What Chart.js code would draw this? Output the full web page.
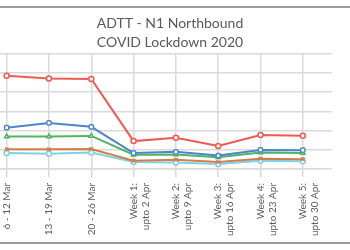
<!DOCTYPE html>
<html lang="en">
<head>
    <meta charset="UTF-8">
    <title>ADTT - N1 Northbound</title>
    <script src="https://cdn.jsdelivr.net/npm/chart.js"></script>
    <style>
        body {
            margin: 0;
            background: #fff;
            font-family: Lato, "Open Sans", sans-serif;
        }
        .frame {
            position: relative;
            width: 350px;
            height: 250px;
            overflow: hidden;
        }
        .frame::before, .frame::after {
            content: '';
            position: absolute;
            left: 0;
            width: 350px;
            height: 2px;
            background: #9a9a9a;
        }
        .frame::before { top: 6px; }
        .frame::after { top: 242px; }
        #adttChart {
            position: absolute;
            left: -20px;
            top: 8px;
        }
    </style>
</head>
<body>
    <div class="frame">
        <canvas id="adttChart" width="380" height="234"></canvas>
    </div>

    <script>
        const weeks = [
            '6 - 12 Mar',
            '13 - 19 Mar',
            '20 - 26 Mar',
            ['Week 1:', 'upto 2 Apr'],
            ['Week 2:', 'upto 9 Apr'],
            ['Week 3:', 'upto 16 Apr'],
            ['Week 4:', 'upto 23 Apr'],
            ['Week 5:', 'upto 30 Apr']
        ];

        // values (y axis is cropped away)
        const series1 = [4860, 4710, 4690, 1450, 1620, 1200, 1770, 1735];
        const series2 = [2150, 2395, 2195, 830, 890, 695, 990, 975];
        const series3 = [1685, 1685, 1720, 745, 755, 610, 860, 830];
        const series4 = [1025, 1025, 1040, 430, 480, 360, 530, 510];
        const series5 = [830, 795, 860, 360, 330, 260, 430, 400];

        const gridColor = '#dadada';

        function line(label, data, color, style) {
            return {
                label: label,
                data: data,
                borderColor: color,
                backgroundColor: color,
                borderWidth: 2,
                pointStyle: style,
                pointRadius: 2.5,
                pointBorderWidth: 1.5,
                pointBackgroundColor: '#fff',
                pointBorderColor: color,
                tension: 0
            };
        }

        new Chart(document.getElementById('adttChart'), {
            type: 'line',
            data: {
                labels: weeks,
                datasets: [
                    line('Series 1', series1, '#f0594f', 'circle'),
                    line('Series 2', series2, '#4a86c8', 'rectRounded'),
                    line('Series 3', series3, '#4fb464', 'triangle'),
                    line('Series 4', series4, '#cf7f4c', 'crossRot'),
                    line('Series 5', series5, '#7fcfe6', 'circle')
                ]
            },
            options: {
                responsive: false,
                animation: false,
                layout: {
                    padding: { top: 0, right: 0, bottom: 0, left: 0 }
                },
                plugins: {
                    legend: { display: false },
                    tooltip: { enabled: false },
                    title: {
                        display: true,
                        text: ['ADTT - N1 Northbound', 'COVID Lockdown 2020'],
                        color: '#595959',
                        font: { family: 'Lato', size: 14, weight: 'normal', lineHeight: 1.35 },
                        padding: { top: 6, bottom: 2 }
                    }
                },
                scales: {
                    x: {
                        offset: true,
                        grid: { color: gridColor, lineWidth: 1.5 },
                        border: { color: gridColor, width: 1.5 },
                        ticks: {
                            color: '#595959',
                            font: { family: 'Lato', size: 10 },
                            minRotation: 90,
                            maxRotation: 90,
                            autoSkip: false,
                            padding: 6
                        }
                    },
                    y: {
                        position: 'right',
                        min: 0,
                        max: 6000,
                        grid: { color: gridColor, lineWidth: 1.5 },
                        border: { display: false },
                        ticks: { display: false, stepSize: 1000 },
                        afterFit: (scale) => { scale.width = 36; }
                    }
                }
            }
        });
    </script>
</body>
</html>
